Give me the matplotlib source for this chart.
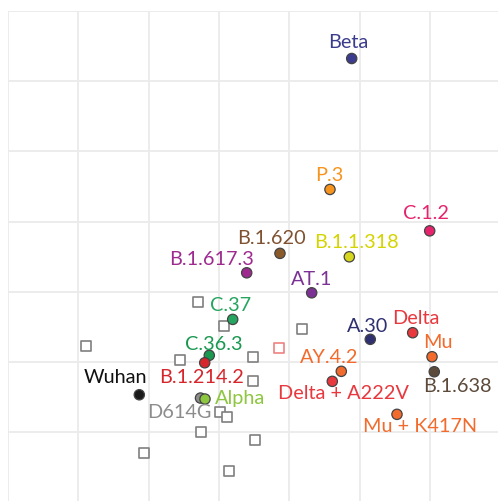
import matplotlib
matplotlib.use("Agg")
import matplotlib.pyplot as plt

# ---- data ----
names = ["Beta", "P.3", "C.1.2", "B.1.620", "B.1.1.318", "B.1.617.3", "AT.1",
         "C.37", "C.36.3", "B.1.214.2", "Wuhan", "D614G", "Alpha", "A.30",
         "Delta", "Mu", "B.1.638", "AY.4.2", "Delta + A222V", "Mu + K417N"]
ag_x = [4.887, 4.578, 5.996, 3.867, 4.853, 3.394, 4.318, 3.195, 2.862, 2.797,
        1.867, 2.737, 2.801, 5.151, 5.754, 6.029, 6.061, 4.739, 4.611, 5.531]
ag_y = [6.323, 4.457, 3.867, 3.546, 3.497, 3.269, 2.984, 2.605, 2.093, 1.987,
        1.531, 1.484, 1.470, 2.321, 2.415, 2.073, 1.859, 1.865, 1.722, 1.252]
sera_x = [1.113, 2.702, 3.067, 2.441, 3.488, 3.479, 4.176, 3.019, 3.110,
          2.748, 1.938, 3.138, 3.508]
sera_y = [2.221, 2.848, 2.506, 2.021, 2.064, 1.731, 2.472, 1.281, 1.218,
          1.000, 0.705, 0.444, 0.882]
pink_serum_x = [3.849]
pink_serum_y = [2.197]

# ---- style ----
colors = ["#3c3c8e", "#f7941d", "#e6246e", "#8b5a2b", "#d6d61e", "#9e2a8f",
          "#7b3294", "#25a55f", "#1a9850", "#d7262b", "#1a1a1a", "#8c8c8c",
          "#8dc63f", "#2e3070", "#e8383d", "#f26b2d", "#5c4a3a", "#f26b2d",
          "#e8383d", "#f26b2d"]
text_colors = ["#3c3c8e", "#f7941d", "#e6246e", "#7f5130", "#d4d400", "#9e2a8f",
               "#7b3294", "#25a55f", "#1a9850", "#d7262b", "#111111", "#8c8c8c",
               "#8dc63f", "#2e3070", "#e8383d", "#f26b2d", "#5c4a3a", "#f26b2d",
               "#e8383d", "#f26b2d"]
# label offsets in pixels (dx right, dy down)
offsets = [(-3, -16), (-1, -14), (-4, -17), (-9, -15), (7, -14), (-35, -13),
           (0, -13), (-2, -14), (4, -11), (-3, 15), (-24, -17), (-21, 14),
           (35, -1), (-3, -13), (3, -14), (6, -14), (23, 15), (-12, -14),
           (11, 12), (23, 12)]

plt.rcParams['font.family'] = ['Lato', 'DejaVu Sans']

fig = plt.figure(figsize=(4.98, 5.01), dpi=100)
ax = fig.add_axes([8 / 498, 0, 1 - 8 / 498, 1 - 11 / 501])
ax.set_xlim(0, 490 / 70.33)
ax.set_ylim(0.017, 7.0)
ax.set_xticks(range(0, 7))
ax.set_yticks(range(1, 8))
ax.grid(True, color="#ebebeb", linewidth=1.3)
ax.tick_params(length=0, labelbottom=False, labelleft=False)
for s in ax.spines.values():
    s.set_visible(False)
ax.set_axisbelow(True)

ax.scatter(sera_x, sera_y, marker="s", s=42, facecolor="white",
           edgecolor="#7f7f7f", linewidth=1.2, zorder=2)
ax.scatter(pink_serum_x, pink_serum_y, marker="s", s=42, facecolor="white",
           edgecolor="#f08080", linewidth=1.2, zorder=2)
ax.scatter(ag_x, ag_y, s=55, c=colors, edgecolor="#444444", linewidth=0.9,
           zorder=3)

for n, x, y, c, (dx, dy) in zip(names, ag_x, ag_y, text_colors, offsets):
    ax.annotate(n, (x, y), xytext=(dx, -dy), textcoords="offset pixels",
                ha="center", va="center", fontsize=14.3, color=c, zorder=4)

fig.savefig("out.png", dpi=100)
